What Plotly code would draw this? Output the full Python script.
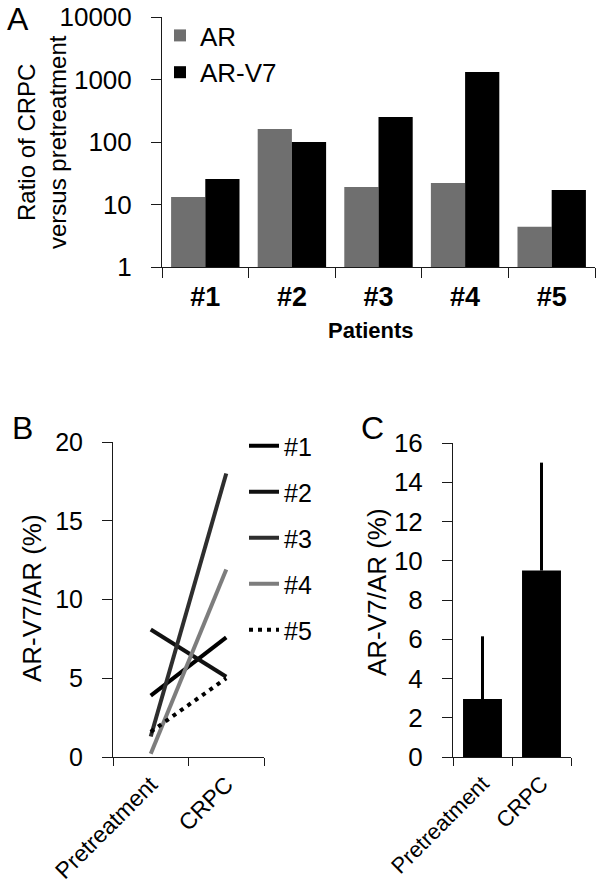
import plotly.graph_objects as go

# ---------------- data ----------------
patients = ["#1", "#2", "#3", "#4", "#5"]
ar_ratio = [13.2, 162, 19, 22, 4.4]
arv7_ratio = [25.6, 100, 251, 1320, 17]
ratio_ticks = [1, 10, 100, 1000, 10000]
ratio_ticktext = ["1", "10", "100", "1000", "10000"]

timepoints = ["Pretreatment", "CRPC"]
pct_p1 = [3.9, 7.6]
pct_p2 = [8.1, 5.1]
pct_p3 = [1.3, 18.0]
pct_p4 = [0.2, 11.9]
pct_p5 = [1.6, 5.0]

mean_pct = [2.95, 9.5]
sd_pct = [3.2, 5.5]
sd_minus = [0, 0]

# ---------------- layout helpers ----------------
W, H = 602, 885
FONT = "Liberation Sans, Arial, Helvetica, sans-serif"


def dx(a, b):
    return [a / W, b / W]


def dy(top, bottom):
    return [1 - bottom / H, 1 - top / H]


fig = go.Figure()

# Panel A
fig.add_trace(go.Bar(x=patients, y=ar_ratio, name="AR", marker=dict(color="#6f6f6f", line=dict(width=0)),
                     xaxis="x", yaxis="y", legend="legend"))
fig.add_trace(go.Bar(x=patients, y=arv7_ratio, name="AR-V7", marker=dict(color="#000000", line=dict(width=0)),
                     xaxis="x", yaxis="y", legend="legend"))

# Panel B
series_b = [("#1", pct_p1, "#000000", "solid"),
            ("#2", pct_p2, "#111111", "solid"),
            ("#3", pct_p3, "#2e2e2e", "solid"),
            ("#4", pct_p4, "#7d7d7d", "solid"),
            ("#5", pct_p5, "#000000", "4px,5px")]
for i, (nm, vals, col, dash) in enumerate(series_b):
    fig.add_trace(go.Scatter(x=timepoints, y=vals, name=nm, mode="lines",
                             line=dict(color=col, width=4, dash=dash),
                             xaxis="x2", yaxis="y2", legend="legend2", legendgroup="g%d" % i))

# Panel C
fig.add_trace(go.Bar(x=timepoints, y=mean_pct, width=0.66, showlegend=False,
                     marker=dict(color="#000000", line=dict(width=0)),
                     error_y=dict(type="data", array=sd_pct, arrayminus=sd_minus, symmetric=False,
                                  color="#000000", thickness=3, width=0),
                     xaxis="x3", yaxis="y3"))

axis_common = dict(showline=True, linecolor="#1a1a1a", linewidth=1, ticks="outside", ticklen=10,
                   tickcolor="#1a1a1a", tickwidth=1, showgrid=False, zeroline=False, automargin=False)

fig.update_layout(
    width=W, height=H, autosize=False,
    margin=dict(l=0, r=0, t=0, b=0, pad=0),
    paper_bgcolor="white", plot_bgcolor="white",
    font=dict(family=FONT, color="black"),
    barmode="group", bargap=0.21, bargroupgap=0,
    xaxis=dict(axis_common, domain=dx(162, 595), anchor="y", tickson="boundaries",
               tickfont=dict(size=27, weight="bold"), ticklabelstandoff=6),
    yaxis=dict(axis_common, domain=dy(17, 267), anchor="x", type="log", range=[0, 4],
               tickvals=ratio_ticks, ticktext=ratio_ticktext, tickfont=dict(size=26),
               ticklabelstandoff=14),
    xaxis2=dict(axis_common, domain=dx(113, 264), anchor="y2", tickson="boundaries", ticklen=8,
                range=[-0.5, 1.5], tickangle=-45, tickfont=dict(size=23), ticklabelstandoff=4),
    yaxis2=dict(axis_common, domain=dy(442, 757), anchor="x2", range=[0, 20], dtick=5,
                tickfont=dict(size=25), ticklabelstandoff=14),
    xaxis3=dict(axis_common, domain=dx(453, 571), anchor="y3", tickson="boundaries", ticklen=8,
                range=[-0.5, 1.5], tickangle=-45, tickfont=dict(size=22), ticklabelstandoff=4),
    yaxis3=dict(axis_common, domain=dy(443, 757), anchor="x3", range=[0, 16], dtick=2,
                tickfont=dict(size=26), ticklabelstandoff=14),
    legend=dict(x=160 / W, y=1 - 12 / H, xanchor="left", yanchor="top", font=dict(size=26),
                bgcolor="rgba(0,0,0,0)", itemwidth=30, tracegroupgap=0),
    legend2=dict(x=244 / W, y=1 - 423 / H, xanchor="left", yanchor="top", font=dict(size=25),
                 bgcolor="rgba(0,0,0,0)", itemwidth=30, traceorder="grouped", tracegroupgap=10.5),
)

annos = [
    dict(text="A", x=18 / W, y=1 - 19 / H, font=dict(size=32)),
    dict(text="B", x=22 / W, y=1 - 428 / H, font=dict(size=32)),
    dict(text="C", x=372 / W, y=1 - 428 / H, font=dict(size=32)),
    dict(text="Ratio of CRPC<br>versus pretreatment", x=42 / W, y=1 - 142 / H, textangle=-90,
         font=dict(size=24)),
    dict(text="<b>Patients</b>", x=371 / W, y=1 - 330 / H, font=dict(size=22)),
    dict(text="AR-V7/AR (%)", x=32 / W, y=1 - 598 / H, textangle=-90, font=dict(size=26)),
    dict(text="AR-V7/AR (%)", x=377 / W, y=1 - 592 / H, textangle=-90, font=dict(size=26)),
]
for a in annos:
    fig.add_annotation(xref="paper", yref="paper", showarrow=False, xanchor="center", yanchor="middle",
                       **a)

fig.write_html("out.html", config={"displayModeBar": False},
               post_script="document.body.style.margin='0';")
